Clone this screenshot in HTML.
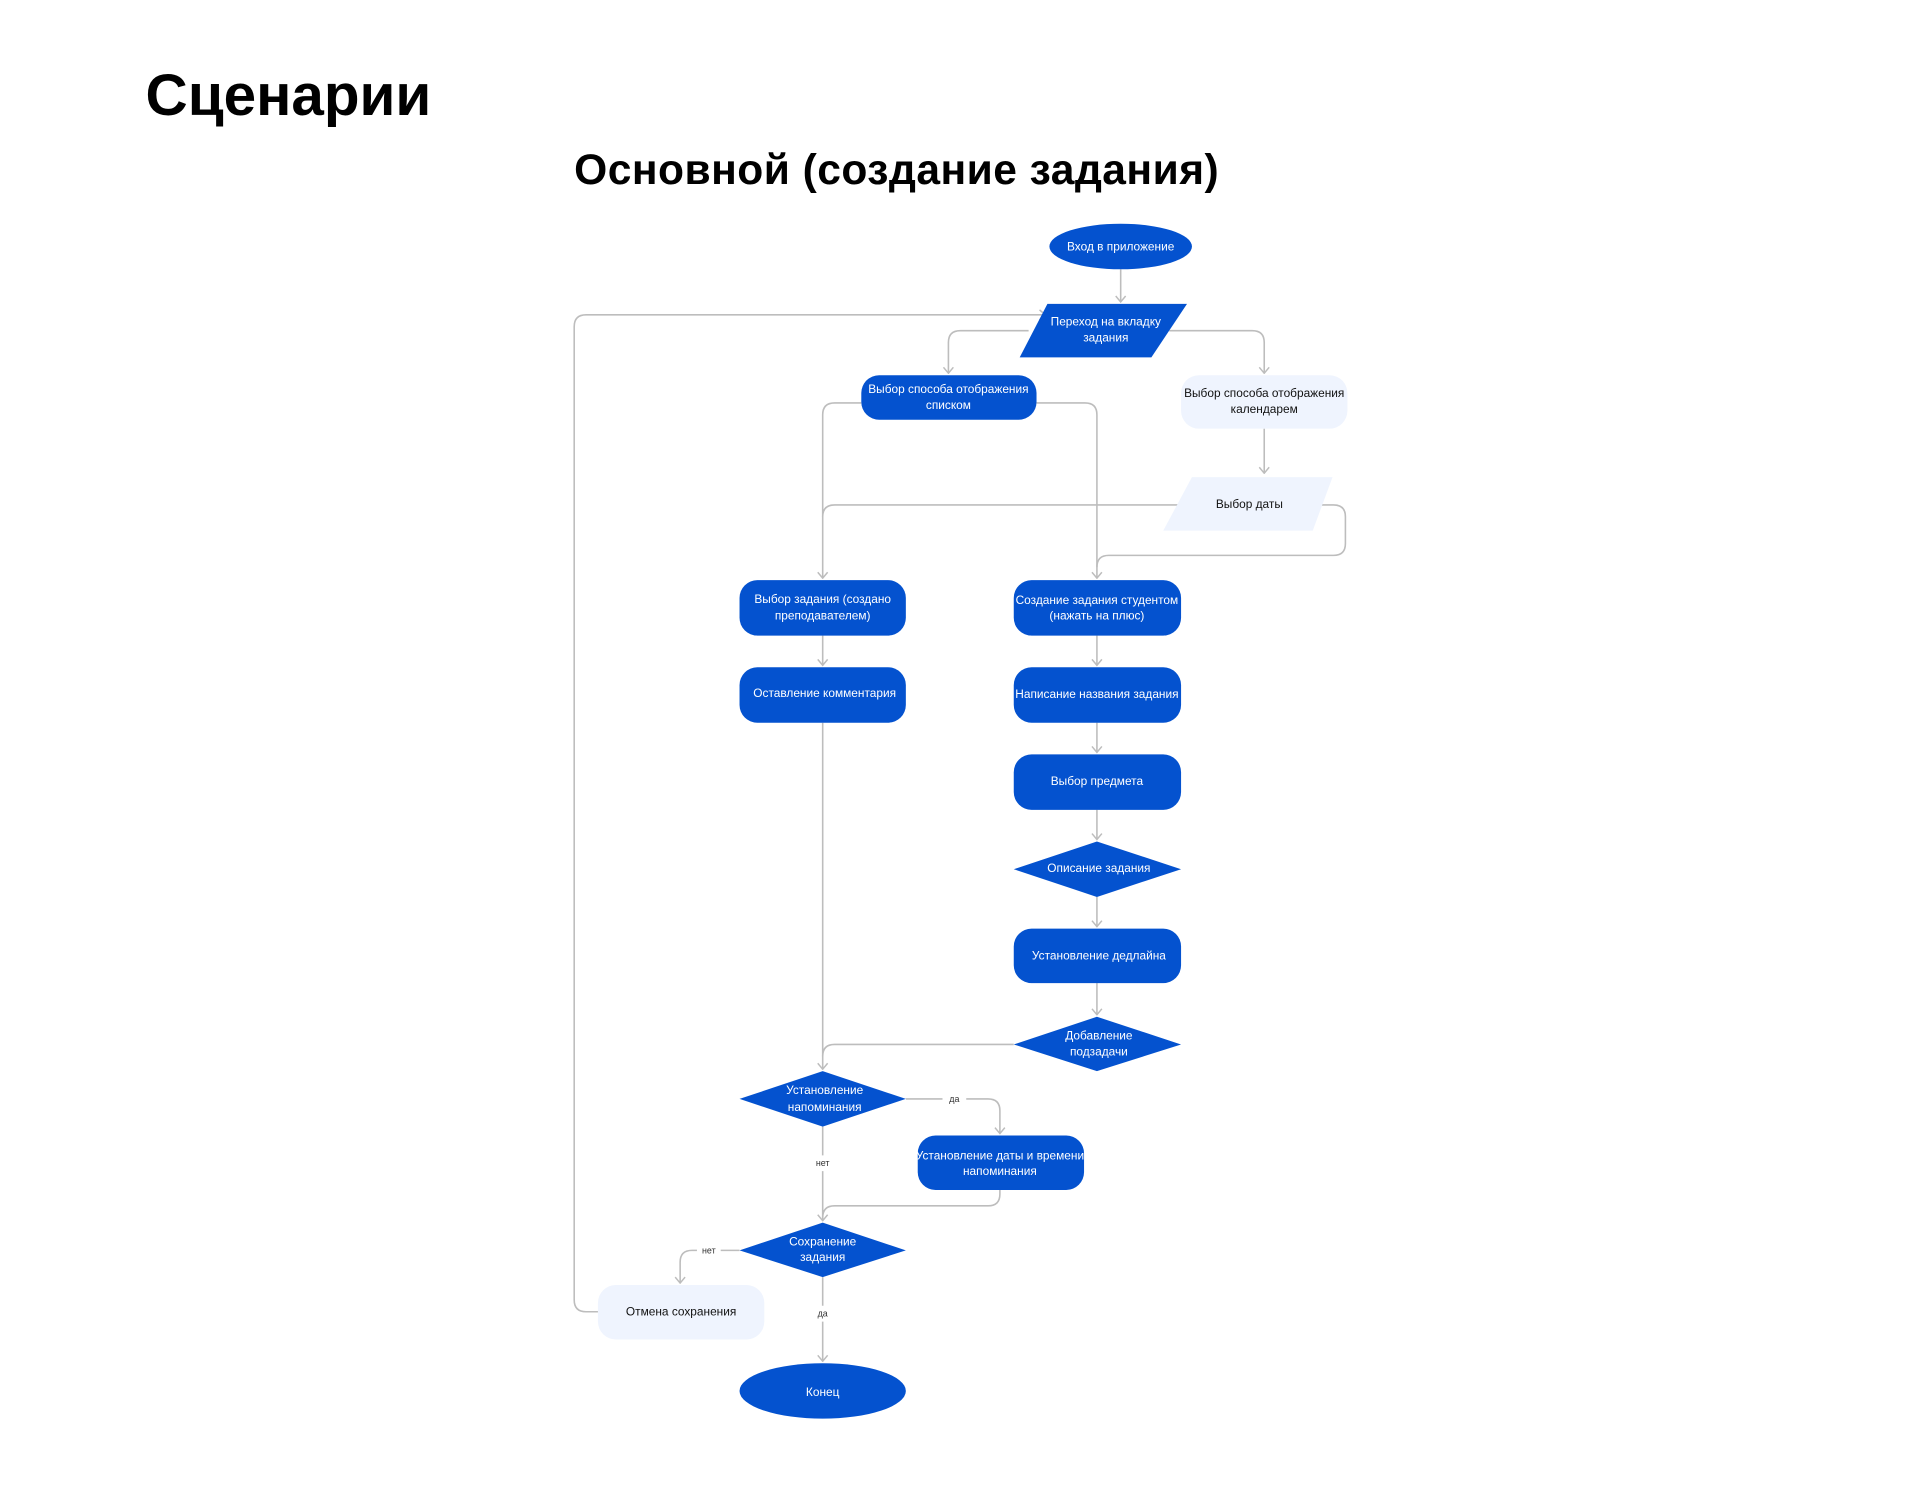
<!DOCTYPE html>
<html><head><meta charset="utf-8"><style>
body{margin:0;background:#fff;}
svg{display:block;font-family:"Liberation Sans",sans-serif;}
.t{fill:#fff;font-size:12px;text-anchor:middle;}
.d{fill:#111;font-size:12px;text-anchor:middle;}
.l{fill:none;stroke:#bdbdbd;stroke-width:1.6;}
.lb{fill:#333;font-size:9px;text-anchor:middle;}
</style></head><body>
<svg width="1920" height="1492" viewBox="0 0 1920 1492">
<defs><marker id="a" viewBox="0 0 12 12" refX="11" refY="6" markerWidth="12" markerHeight="12" orient="auto" markerUnits="userSpaceOnUse"><path d="M5 1 L11 6 L5 11" fill="none" stroke="#bdbdbd" stroke-width="1.5"/></marker></defs>
<g transform="scale(0.99)">
<text x="147" y="116" font-size="59" font-weight="bold" fill="#000">Сценарии</text>
<text x="580" y="186" font-size="43" font-weight="bold" fill="#000" textLength="651">Основной (создание задания)</text>

<g class="l">
<path d="M1132 272 V305" marker-end="url(#a)"/>
<path d="M1039 334 H970 Q958 334 958 346 V377" marker-end="url(#a)"/>
<path d="M1181 334 H1265 Q1277 334 1277 346 V377" marker-end="url(#a)"/>
<path d="M1277 433 V478" marker-end="url(#a)"/>
<path d="M870 407 H843 Q831 407 831 419 V584" marker-end="url(#a)"/>
<path d="M1047 407 H1096 Q1108 407 1108 419 V584" marker-end="url(#a)"/>
<path d="M1195 510 H843 Q831 510 831 522"/>
<path d="M1335 510 H1347 Q1359 510 1359 522 V549 Q1359 561 1347 561 H1120 Q1108 561 1108 573"/>
<path d="M831 642 V672" marker-end="url(#a)"/>
<path d="M1108 642 V672" marker-end="url(#a)"/>
<path d="M1108 730 V760" marker-end="url(#a)"/>
<path d="M1108 818 V848" marker-end="url(#a)"/>
<path d="M1108 906 V936" marker-end="url(#a)"/>
<path d="M1108 993 V1025" marker-end="url(#a)"/>
<path d="M831 730 V1080" marker-end="url(#a)"/>
<path d="M1024 1055 H843 Q831 1055 831 1067"/>
<path d="M915 1110 H952 M976 1110 H998 Q1010 1110 1010 1122 V1145" marker-end="url(#a)"/>
<path d="M831 1138 V1167 M831 1183 V1233" marker-end="url(#a)"/>
<path d="M1010 1202 V1206 Q1010 1218 998 1218 H843 Q831 1218 831 1230"/>
<path d="M747 1263 H728 M704 1263 H699 Q687 1263 687 1275 V1296" marker-end="url(#a)"/>
<path d="M831 1290 V1319 M831 1335 V1375" marker-end="url(#a)"/>
<path d="M604 1325 H592 Q580 1325 580 1313 V330 Q580 318 592 318 H1056" marker-end="url(#a)"/>
</g>
<text class="lb" x="964" y="1113">да</text>
<text class="lb" x="831" y="1178">нет</text>
<text class="lb" x="716" y="1266">нет</text>
<text class="lb" x="831" y="1330">да</text>

<g fill="#0452cf">
<ellipse cx="1132" cy="249" rx="72" ry="23"/>
<polygon points="1058,307 1199,307 1163,361 1030,361"/>
<rect x="870" y="379" width="177" height="45" rx="18"/>
<rect x="747" y="586" width="168" height="56" rx="18"/>
<rect x="1024" y="586" width="169" height="56" rx="18"/>
<rect x="747" y="674" width="168" height="56" rx="18"/>
<rect x="1024" y="674" width="169" height="56" rx="18"/>
<rect x="1024" y="762" width="169" height="56" rx="18"/>
<polygon points="1108,850 1193,878 1108,906 1024,878"/>
<rect x="1024" y="938" width="169" height="55" rx="18"/>
<polygon points="1108,1027 1193,1055 1108,1082 1024,1055"/>
<polygon points="831,1082 915,1110 831,1138 747,1110"/>
<rect x="927" y="1147" width="168" height="55" rx="18"/>
<polygon points="831,1235 915,1263 831,1290 747,1263"/>
<ellipse cx="831" cy="1405" rx="84" ry="28"/>
</g>
<g fill="#eff4fe">
<rect x="1193" y="379" width="168" height="54" rx="18"/>
<polygon points="1204,482 1346,482 1326,536 1175,536"/>
<rect x="604" y="1298" width="168" height="55" rx="18"/>
</g>

<text class="t" x="1132" y="253">Вход в приложение</text>
<text class="t" x="1117" y="329">Переход на вкладку</text>
<text class="t" x="1117" y="345">задания</text>
<text class="t" x="958" y="397">Выбор способа отображения</text>
<text class="t" x="958" y="413">списком</text>
<text class="d" x="1277" y="401" font-size="11">Выбор способа отображения</text>
<text class="d" x="1277" y="417" font-size="11">календарем</text>
<text class="d" x="1262" y="513">Выбор даты</text>
<text class="t" x="831" y="609">Выбор задания (создано</text>
<text class="t" x="831" y="626">преподавателем)</text>
<text class="t" x="1108" y="610" font-size="11.5">Создание задания студентом</text>
<text class="t" x="1108" y="626" font-size="11.5">(нажать на плюс)</text>
<text class="t" x="833" y="704" font-size="13">Оставление комментария</text>
<text class="t" x="1108" y="705" font-size="11.5">Написание названия задания</text>
<text class="t" x="1108" y="793">Выбор предмета</text>
<text class="t" x="1110" y="881" font-size="11">Описание задания</text>
<text class="t" x="1110" y="969" font-size="11">Установление дедлайна</text>
<text class="t" x="1110" y="1050">Добавление</text>
<text class="t" x="1110" y="1066">подзадачи</text>
<text class="t" x="833" y="1105">Установление</text>
<text class="t" x="833" y="1122">напоминания</text>
<text class="t" x="1010" y="1171" font-size="11">Установление даты и времени</text>
<text class="t" x="1010" y="1187" font-size="11">напоминания</text>
<text class="t" x="831" y="1258">Сохранение</text>
<text class="t" x="831" y="1274">задания</text>
<text class="d" x="688" y="1329" font-size="11.5">Отмена сохранения</text>
<text class="t" x="831" y="1410" font-size="14">Конец</text>
</g>
</svg>
</body></html>
